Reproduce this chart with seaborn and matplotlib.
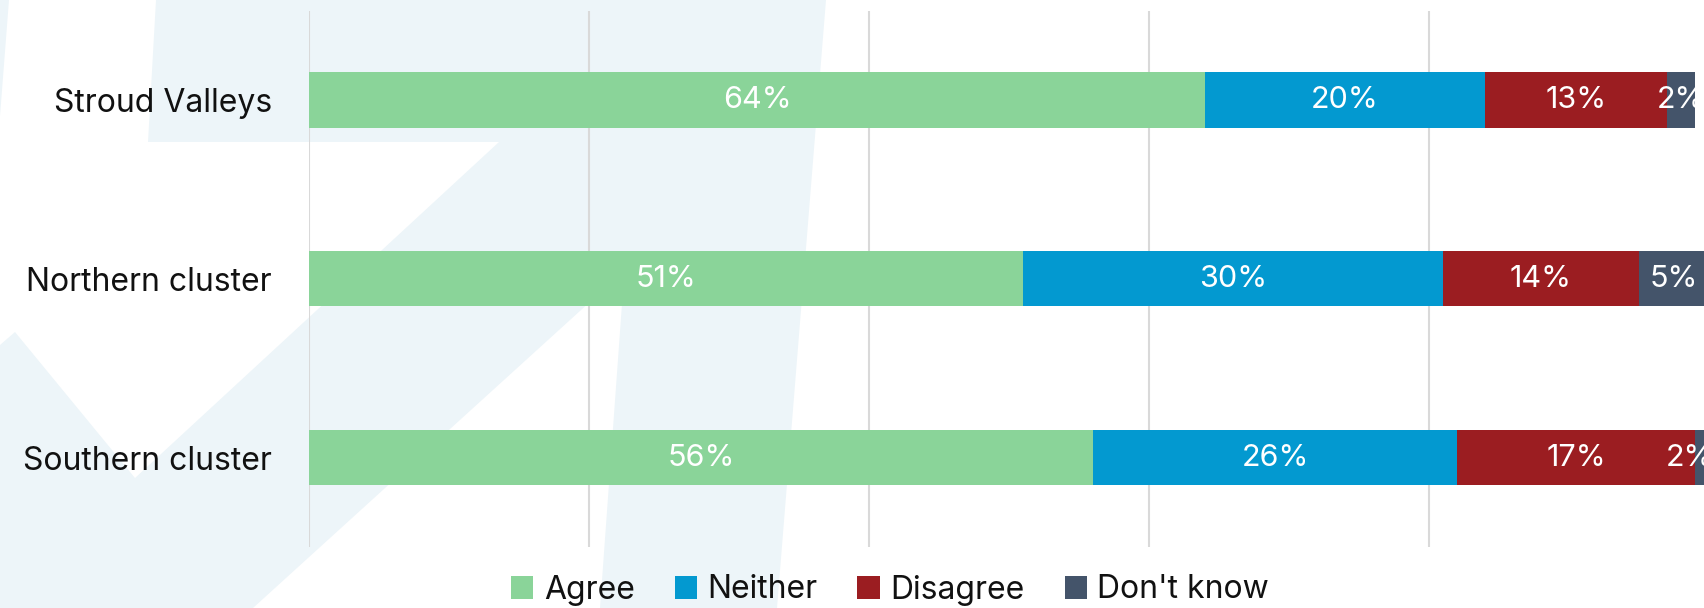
import matplotlib
matplotlib.use("Agg")
import matplotlib.pyplot as plt
from matplotlib.patches import Patch, Polygon
import numpy as np
import pandas as pd
import seaborn as sns

# Survey responses by area (percent)
areas = ["Stroud Valleys", "Northern cluster", "Southern cluster"]
responses = ["Agree", "Neither", "Disagree", "Don't know"]
agree = [64, 51, 56]
neither = [20, 30, 26]
disagree = [13, 14, 17]
dont_know = [2, 5, 2]

palette = ["#8AD499", "#0399D0", "#9B1D21", "#44546A"]
grid_ticks = [0, 20, 40, 60, 80]

sns.set_theme(style="white")
plt.rcParams["font.family"] = ["Inter", "DejaVu Sans"]

W, H = 1704, 608
fig = plt.figure(figsize=(W / 100, H / 100), dpi=100, facecolor="white")


def fig_xy(pts):
    return [(x / W, 1 - y / H) for x, y in pts]


# Decorative light-blue shapes behind the chart
shape_color = "#EDF5F9"
shapes = [
    [(0, 0), (9, 0), (0, 116)],
    [(156, 0), (700, 0), (700, 142), (148, 142)],
    [(644, 0), (826, 0), (777, 608), (600, 608)],
    [(499, 142), (766, 142), (253, 608), (0, 608), (0, 345), (15, 332), (135, 478)],
]
for pts in shapes:
    fig.patches.append(Polygon(fig_xy(pts), closed=True, facecolor=shape_color,
                               edgecolor="none", transform=fig.transFigure, zorder=-10))

left_px, top_px, bottom_px = 309, 10.5, 547
ax = fig.add_axes([left_px / W, 1 - bottom_px / H, (W - left_px) / W, (bottom_px - top_px) / H])
ax.set_facecolor("none")

series = [agree, neither, disagree, dont_know]
values = pd.DataFrame({r: s for r, s in zip(responses, series)}, index=areas)
cum = values.cumsum(axis=1)
starts = cum - values

# Stacked bars: draw cumulative totals from the outermost segment inward
for resp, col in reversed(list(zip(responses, palette))):
    layer = pd.DataFrame({"area": areas, "end": cum[resp].values})
    sns.barplot(data=layer, x="end", y="area", order=areas, color=col,
                width=0.31, orient="h", ax=ax, saturation=1, errorbar=None,
                linewidth=0, zorder=2)

x_max = (W - left_px) / 14
ax.set_xlim(0, x_max)
ax.set_ylim(2.5, -0.5)

# Segment value labels (kept close to the visible right edge when a segment runs past it)
label_size = 22
for i, area in enumerate(areas):
    for resp in responses:
        v = values.loc[area, resp]
        x_pos = min(starts.loc[area, resp] + v / 2, x_max - 1.0)
        ax.text(x_pos, i, f"{v}%", ha="center", va="center",
                color="white", fontsize=label_size, zorder=3)

ax.set_xticks(grid_ticks)
ax.set_xticklabels([])
ax.xaxis.grid(True, color="#D9D9D9", linewidth=1.5, zorder=0)
ax.yaxis.grid(False)
ax.set_axisbelow(True)
ax.set_xlabel("")
ax.set_ylabel("")
for sp in ax.spines.values():
    sp.set_visible(False)
ax.tick_params(axis="y", length=0, pad=26.6, labelsize=23, labelcolor="#111111")
ax.tick_params(axis="x", length=0)

handles = [Patch(facecolor=c, edgecolor="none", label=r) for r, c in zip(responses, palette)]
fig.legend(handles=handles, loc="center", bbox_to_anchor=(890 / W, 1 - 590 / H), ncol=4,
           frameon=False, fontsize=23, handlelength=0.7, handleheight=0.7,
           handletextpad=0.33, columnspacing=1.25, labelcolor="#111111")

fig.savefig("out.png", dpi=100, facecolor="white")
